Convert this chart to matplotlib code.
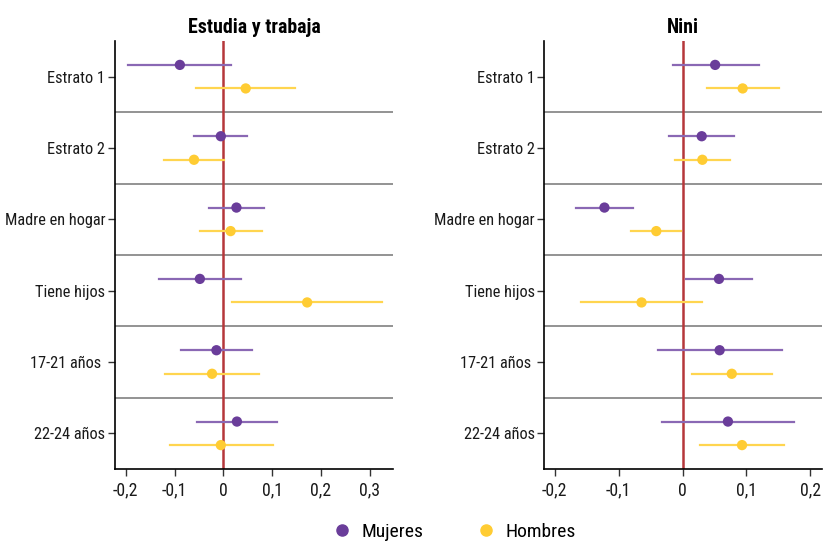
import matplotlib
matplotlib.use("Agg")
import matplotlib.pyplot as plt
from matplotlib.lines import Line2D
from matplotlib import font_manager as fm
import numpy as np

# pick a condensed font if any is installed
cond = None
prefs = ['Liberation Sans Narrow', 'Roboto Condensed', 'Open Sans Condensed', 'DejaVu Sans', 'Noto Sans']
cands = [f for f in fm.fontManager.ttflist
         if ('narrow' in f.name.lower() or 'condensed' in f.name.lower()
             or (str(f.stretch) in ('condensed', 'semi-condensed', 'extra-condensed', '400', '300', '350')
                 or 'condensed' in f.fname.lower()))]
for p in prefs:
    for f in cands:
        if f.name == p and f.style == 'normal':
            cond = f
            break
    if cond:
        break
if cond is None and cands:
    cond = cands[0]

if cond is not None:
    reg = [f for f in cands if f.name == cond.name and f.style == 'normal' and f.stretch == cond.stretch]
    reg_n = [f for f in reg if f.weight in (400, 'normal', 'regular')] or reg
    bold_n = [f for f in reg if f.weight in (700, 'bold')] or reg
    FP = fm.FontProperties(fname=reg_n[0].fname)
    FPB = fm.FontProperties(fname=bold_n[0].fname)
    if bold_n[0].weight not in (700, 'bold'):
        FPB = fm.FontProperties(fname=reg_n[0].fname, weight='bold')
    base = 12.5
    ysize = 11.8
else:
    FP = fm.FontProperties(family='DejaVu Sans')
    FPB = fm.FontProperties(family='DejaVu Sans', weight='bold')
    base = 10.5
    ysize = 9.5

categories = ["Estrato 1", "Estrato 2", "Madre en hogar", "Tiene hijos", "17-21 años ", "22-24 años"]
panels = ["Estudia y trabaja", "Nini"]

# Estudia y trabaja
et_muj = [-0.089, -0.005, 0.027, -0.048, -0.014, 0.028]
et_muj_lo = [-0.195, -0.059, -0.029, -0.131, -0.087, -0.053]
et_muj_hi = [0.016, 0.049, 0.084, 0.036, 0.059, 0.111]
et_hom = [0.046, -0.060, 0.015, 0.172, -0.023, -0.005]
et_hom_lo = [-0.055, -0.121, -0.048, 0.018, -0.120, -0.109]
et_hom_hi = [0.148, 0.001, 0.079, 0.326, 0.074, 0.101]

# Nini
ni_muj = [0.051, 0.030, -0.122, 0.057, 0.058, 0.071]
ni_muj_lo = [-0.015, -0.021, -0.166, 0.005, -0.039, -0.032]
ni_muj_hi = [0.119, 0.081, -0.077, 0.109, 0.155, 0.174]
ni_hom = [0.094, 0.031, -0.041, -0.064, 0.077, 0.093]
ni_hom_lo = [0.039, -0.011, -0.081, -0.158, 0.015, 0.027]
ni_hom_hi = [0.151, 0.074, -0.002, 0.031, 0.140, 0.159]

xticks_left = [-0.2, -0.1, 0, 0.1, 0.2, 0.3]
xticks_right = [-0.2, -0.1, 0, 0.1, 0.2]

c_muj_pt = "#6a3d9a"
c_muj_ln = "#8a68b4"
c_hom_pt = "#ffcc33"
c_hom_ln = "#ffd54f"
c_zero = "#b5373a"

W, H = 824, 541
fig = plt.figure(figsize=(W / 100, H / 100), dpi=100)

def fmt(v):
    if abs(v) < 1e-9:
        return "0"
    return ("%.1f" % v).replace(".", ",")

def draw(ax, title, muj, mlo, mhi, hom, hlo, hhi, xlim, xticks):
    n = len(categories)
    ypos = np.arange(n)
    off = 0.165
    for i in range(n):
        ax.plot([mlo[i], mhi[i]], [ypos[i] - off] * 2, color=c_muj_ln, lw=1.6, zorder=3)
        ax.plot([hlo[i], hhi[i]], [ypos[i] + off] * 2, color=c_hom_ln, lw=1.6, zorder=3)
    ax.scatter(muj, ypos - off, s=55, color=c_muj_pt, zorder=4, edgecolors='none')
    ax.scatter(hom, ypos + off, s=55, color=c_hom_pt, zorder=4, edgecolors='none')
    for k in range(n - 1):
        ax.axhline(k + 0.5, color="#8a8a8a", lw=1.3, zorder=1)
    ax.axvline(0, color=c_zero, lw=1.8, zorder=2)
    ax.set_ylim(n - 0.5, -0.5)
    ax.set_xlim(*xlim)
    ax.set_yticks(ypos)
    ax.set_yticklabels(categories)
    ax.set_xticks(xticks)
    ax.set_xticklabels([fmt(v) for v in xticks])
    for lab in ax.get_xticklabels():
        lab.set_fontproperties(FP)
        lab.set_fontsize(base + 0.3)
        lab.set_color('#1a1a1a')
    for lab in ax.get_yticklabels():
        lab.set_fontproperties(FP)
        lab.set_fontsize(ysize)
        lab.set_color('#1a1a1a')
    ax.spines['top'].set_visible(False)
    ax.spines['right'].set_visible(False)
    ax.spines['left'].set_linewidth(1.2)
    ax.spines['bottom'].set_linewidth(1.2)
    ax.tick_params(axis='both', length=5, width=1, color='#333333', pad=4)
    ax.tick_params(axis='y', pad=2)
    t = ax.set_title(title, pad=6)
    t.set_fontproperties(FPB)
    t.set_fontsize(base + 1.8)
    t.set_fontweight('bold')

ax1 = fig.add_axes([115 / W, (H - 469) / H, (393 - 115) / W, (469 - 41) / H])
draw(ax1, panels[0], et_muj, et_muj_lo, et_muj_hi, et_hom, et_hom_lo, et_hom_hi, (-0.222, 0.348), xticks_left)
ax2 = fig.add_axes([544.3 / W, (H - 469) / H, (822 - 544.3) / W, (469 - 41) / H])
draw(ax2, panels[1], ni_muj, ni_muj_lo, ni_muj_hi, ni_hom, ni_hom_lo, ni_hom_hi, (-0.216, 0.218), xticks_right)

handles = [Line2D([], [], marker='o', ls='none', color=c_muj_pt, markersize=8),
           Line2D([], [], marker='o', ls='none', color=c_hom_pt, markersize=8)]
lp = FP.copy()
lp.set_size(base + 1.5)
fig.legend(handles, ["Mujeres", "Hombres"], loc='center', bbox_to_anchor=(453 / W, (H - 532) / H),
           ncol=2, frameon=False, prop=lp, columnspacing=2.6, handletextpad=0.4, handlelength=1.2)

fig.savefig("out.png", dpi=100)
